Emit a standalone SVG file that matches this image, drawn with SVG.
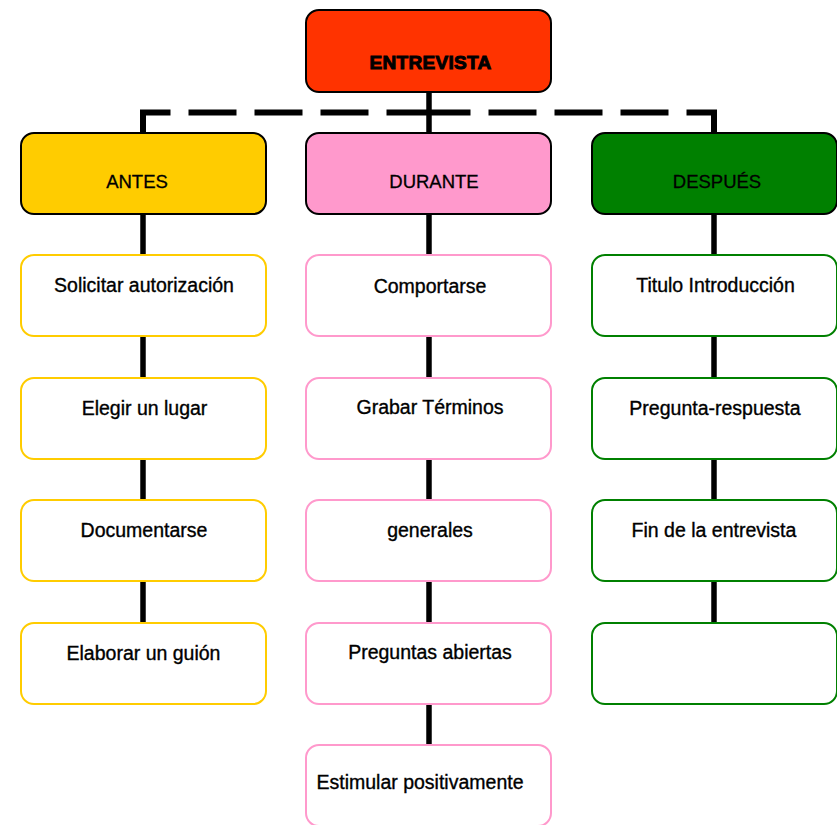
<svg xmlns="http://www.w3.org/2000/svg" width="837" height="825" viewBox="0 0 837 825">
  <style>
    .bg { fill: #ffffff; }
    .link { stroke: #000000; stroke-width: 5.5; fill: none; }
    .dash { stroke: #000000; stroke-width: 6; fill: none; stroke-dasharray: 48 18; }
    .head { stroke: #000000; stroke-width: 2; }
    .item { fill: #ffffff; stroke-width: 2; }
    .yellow { stroke: #FFCC00; }
    .pink { stroke: #FF99CC; }
    .green { stroke: #008000; }
    .title { font-family: "Liberation Sans", Arial, sans-serif; font-weight: bold; font-size: 19px; fill: #000000; stroke: #000000; stroke-width: 1; text-anchor: middle; letter-spacing: 0.3px; }
    .hl { font-family: "Liberation Sans", Arial, sans-serif; font-size: 18.5px; fill: #000000; stroke: #000000; stroke-width: 0.3; text-anchor: middle; }
    .tl { font-family: "Liberation Sans", Arial, sans-serif; font-size: 19.5px; fill: #000000; stroke: #000000; stroke-width: 0.35; text-anchor: middle; }
  </style>

  <rect class="bg" x="0" y="0" width="837" height="825"/>

  <!-- connectors -->
  <g id="connectors">
    <path class="dash" d="M143,133 V112.5 H429"/>
    <path class="dash" d="M714,133 V112.5 H429"/>
    <path class="link" d="M429,92 V133"/>
    <path class="link" d="M143,214 V623"/>
    <path class="link" d="M429,214 V745"/>
    <path class="link" d="M714,214 V623"/>
  </g>

  <!-- root -->
  <g id="entrevista">
    <rect class="head" x="306" y="10" width="245" height="82" rx="13" fill="#FF3300"/>
    <text class="title" x="430.5" y="69">ENTREVISTA</text>
  </g>

  <!-- phase headers -->
  <g id="antes">
    <rect class="head" x="21" y="133" width="245" height="81" rx="13" fill="#FFCC00"/>
    <text class="hl" x="137" y="188">ANTES</text>
  </g>
  <g id="durante">
    <rect class="head" x="306" y="133" width="245" height="81" rx="13" fill="#FF99CC"/>
    <text class="hl" x="434" y="188">DURANTE</text>
  </g>
  <g id="despues">
    <rect class="head" x="592" y="133" width="245" height="81" rx="13" fill="#008000"/>
    <text class="hl" x="717" y="188">DESPUÉS</text>
  </g>

  <!-- ANTES steps -->
  <g id="antes-1">
    <rect class="item yellow" x="21" y="255" width="245" height="81" rx="13"/>
    <text class="tl" x="144" y="292">Solicitar autorización</text>
  </g>
  <g id="antes-2">
    <rect class="item yellow" x="21" y="378" width="245" height="81" rx="13"/>
    <text class="tl" x="144.5" y="415">Elegir un lugar</text>
  </g>
  <g id="antes-3">
    <rect class="item yellow" x="21" y="500" width="245" height="81" rx="13"/>
    <text class="tl" x="144" y="537">Documentarse</text>
  </g>
  <g id="antes-4">
    <rect class="item yellow" x="21" y="623" width="245" height="81" rx="13"/>
    <text class="tl" x="143.5" y="660">Elaborar un guión</text>
  </g>

  <!-- DURANTE steps -->
  <g id="durante-1">
    <rect class="item pink" x="306" y="255" width="245" height="81" rx="13"/>
    <text class="tl" x="430" y="293">Comportarse</text>
  </g>
  <g id="durante-2">
    <rect class="item pink" x="306" y="378" width="245" height="81" rx="13"/>
    <text class="tl" x="430" y="414">Grabar Términos</text>
  </g>
  <g id="durante-3">
    <rect class="item pink" x="306" y="500" width="245" height="81" rx="13"/>
    <text class="tl" x="430" y="537">generales</text>
  </g>
  <g id="durante-4">
    <rect class="item pink" x="306" y="623" width="245" height="81" rx="13"/>
    <text class="tl" x="430" y="659">Preguntas abiertas</text>
  </g>
  <g id="durante-5">
    <rect class="item pink" x="306" y="745" width="245" height="81" rx="13"/>
    <text class="tl" x="420" y="789">Estimular positivamente</text>
  </g>

  <!-- DESPUÉS steps -->
  <g id="despues-1">
    <rect class="item green" x="592" y="255" width="245" height="81" rx="13"/>
    <text class="tl" x="715.5" y="292">Titulo Introducción</text>
  </g>
  <g id="despues-2">
    <rect class="item green" x="592" y="378" width="245" height="81" rx="13"/>
    <text class="tl" x="715" y="415">Pregunta-respuesta</text>
  </g>
  <g id="despues-3">
    <rect class="item green" x="592" y="500" width="245" height="81" rx="13"/>
    <text class="tl" x="714" y="537">Fin de la entrevista</text>
  </g>
  <g id="despues-4">
    <rect class="item green" x="592" y="623" width="245" height="81" rx="13"/>
  </g>
</svg>
